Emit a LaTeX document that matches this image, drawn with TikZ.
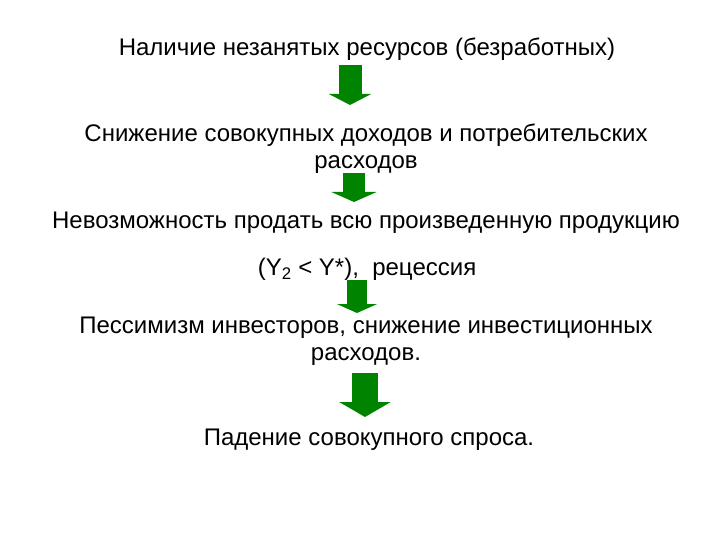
\documentclass[tikz,border=0pt]{standalone}
\usepackage{fontspec}
\setmainfont{Liberation Sans}
\usetikzlibrary{positioning,arrows.meta}

\definecolor{arrgreen}{RGB}{0,132,0}
\tikzset{
    txt/.style={align=center, inner sep=1pt, font=\fontsize{24}{27}\selectfont},
    downarrow/.style={draw=arrgreen, line width=#1},
}

\begin{document}
\begin{tikzpicture}[x=1pt,y=-1pt]
    \useasboundingbox (0,0) rectangle (720,540);
    % text blocks
    \node[txt] (res) at (367,49.5) {Наличие незанятых ресурсов (безработных)};
    \node[txt] (inc) at (366,149) {Снижение совокупных доходов и потребительских\\расходов};
    \node[txt] (sell) at (366,223) {Невозможность продать всю произведенную продукцию};
    \node[txt] (rec) at (367,269.5) {(Y\textsubscript{2} < Y*),~~рецессия};
    \node[txt] (pes) at (366,341) {Пессимизм инвесторов, снижение инвестиционных\\расходов.};
    \node[txt] (dem) at (369,439.5) {Падение совокупного спроса.};

    % block arrows
    \coordinate (a1s) at (350,65);  \coordinate (a1e) at (350,105);
    \coordinate (a2s) at (354,173); \coordinate (a2e) at (354,202);
    \coordinate (a3s) at (357,280); \coordinate (a3e) at (357,313);
    \coordinate (a4s) at (365,373); \coordinate (a4e) at (365,417);

    \draw[downarrow=23pt, -{Triangle[width=42pt,length=11pt,fill=arrgreen]}] (a1s) -- (a1e);
    \draw[downarrow=22pt, -{Triangle[width=45pt,length=10pt,fill=arrgreen]}] (a2s) -- (a2e);
    \draw[downarrow=20pt, -{Triangle[width=40pt,length=9pt,fill=arrgreen]}] (a3s) -- (a3e);
    \draw[downarrow=26pt, -{Triangle[width=51pt,length=15pt,fill=arrgreen]}] (a4s) -- (a4e);
\end{tikzpicture}
\end{document}
